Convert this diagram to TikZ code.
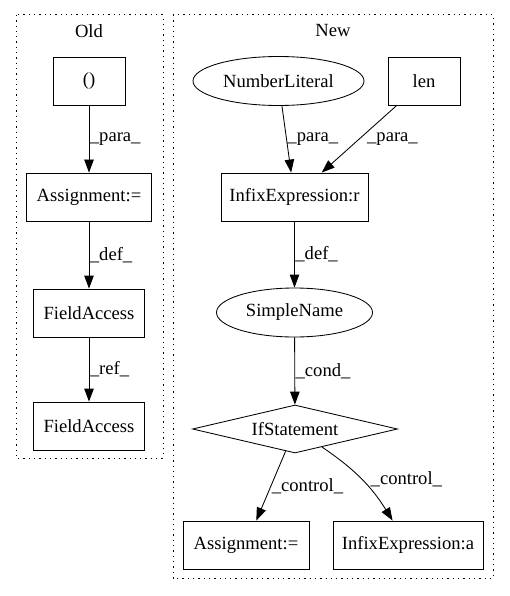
\documentclass[tikz,border=0pt]{standalone}
\usepackage{fontspec}
\setmainfont{Liberation Serif}
\usetikzlibrary{arrows.meta,shapes.geometric}

\tikzset{
  every node/.style={font=\fontsize{18.6}{21}\selectfont},
  box/.style={draw, rectangle, inner sep=0pt, minimum height=48pt},
  oval/.style={draw, ellipse, inner sep=0pt, minimum height=49pt},
  ifnode/.style={draw, diamond, inner sep=0pt, aspect=4.27, minimum width=205pt, minimum height=48pt},
  cluster/.style={draw, line width=1pt, dash pattern=on 1.3pt off 4pt},
  flow/.style={-{Triangle[length=13pt,width=9.5pt]}},
  lbl/.style={right, inner sep=0.5pt}
}

\begin{document}
\begin{tikzpicture}[x=1pt, y=-1pt, line width=0.85pt]
    \useasboundingbox (0,0) rectangle (509,596);

    % clusters
    \draw[cluster] (16,15) rectangle (163,458);
    \node (oldtitle) at (89,31) {Old};
    \draw[cluster] (173,15) rectangle (493,578);
    \node (newtitle) at (333,31) {New};

    % Old
    \node[box, minimum width=72pt] (paren) at (89,81) {()};
    \node[box, minimum width=125pt] (assignold) at (89,197) {Assignment:=};
    \node[box, minimum width=111pt] (fielda) at (89,313) {FieldAccess};
    \node[box, minimum width=111pt] (fieldb) at (89,426) {FieldAccess};

    \path (paren) edge[flow] node[lbl] {\_para\_} (assignold);
    \path (assignold) edge[flow] node[lbl] {\_def\_} (fielda);
    \path (fielda) edge[flow] node[lbl] {\_ref\_} (fieldb);

    % New
    \node[oval, minimum width=171pt] (numlit) at (278.5,81) {NumberLiteral};
    \node[box, minimum width=72pt] (len) at (424,81) {len};
    \node[box, minimum width=147pt] (infixr) at (294.5,197) {InfixExpression:r};
    \node[oval, minimum width=156pt] (simplename) at (294.5,312.5) {SimpleName};
    \node[ifnode] (ifstmt) at (295,429) {IfStatement};
    \node[box, minimum width=126pt] (assignnew) at (246,545) {Assignment:=};
    \node[box, minimum width=150pt] (infixa) at (408,545) {InfixExpression:a};

    \path (numlit) edge[flow] node[lbl] {\_para\_} (infixr);
    \path (len) edge[flow] node[lbl, xshift=7pt] {\_para\_} (infixr);
    \path (infixr) edge[flow] node[lbl] {\_def\_} (simplename);
    \path (simplename) edge[flow] node[lbl] {\_cond\_} (ifstmt);
    \path (ifstmt) edge[flow] node[lbl] {\_control\_} (assignnew);
    \path (ifstmt) edge[flow, bend left=12] node[lbl, xshift=8pt] {\_control\_} (infixa);
\end{tikzpicture}
\end{document}
